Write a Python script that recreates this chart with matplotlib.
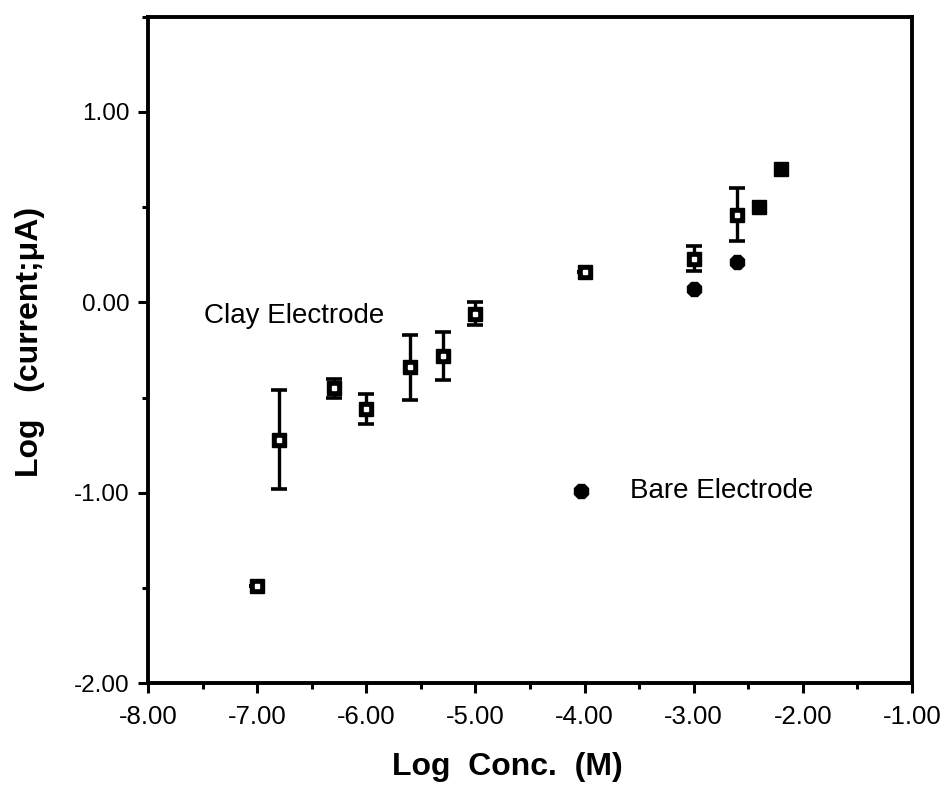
import matplotlib
matplotlib.use('Agg')
import matplotlib.pyplot as plt
from matplotlib.ticker import MultipleLocator

plt.rcParams['font.family'] = ['Liberation Sans', 'DejaVu Sans']

# clay electrode (open squares with error bars)
clay_x = [-7.0, -6.8, -6.3, -6.0, -5.6, -5.3, -5.0, -4.0, -3.0, -2.6]
clay_y = [-1.49, -0.72, -0.45, -0.56, -0.34, -0.28, -0.06, 0.16, 0.23, 0.46]
clay_err = [0.0, 0.26, 0.05, 0.08, 0.17, 0.125, 0.06, 0.0, 0.067, 0.14]

# high concentration points (filled squares)
high_x = [-2.4, -2.2]
high_y = [0.50, 0.70]

# bare electrode
bare_x = [-3.0, -2.6]
bare_y = [0.07, 0.21]

x_ticks = [-8, -7, -6, -5, -4, -3, -2, -1]
y_ticks = [-2, -1, 0, 1]

fig = plt.figure(figsize=(9.52, 7.88), dpi=100)
ax = fig.add_axes([0.1555, 0.1329, 0.8025, 0.8459])

ax.errorbar(clay_x, clay_y, yerr=clay_err, fmt='none', ecolor='black',
            elinewidth=2.4, capsize=5.5, capthick=2.6, zorder=2)
ax.plot(clay_x, clay_y, 's', color='black', markersize=10, zorder=3)
ax.plot(clay_x, clay_y, 's', color='white', markersize=2.6, zorder=4)
ax.plot(high_x, high_y, 's', color='black', markersize=10.5, zorder=3)
ax.plot(bare_x, bare_y, '8', color='black', markersize=10.5, zorder=3)

# legend-like labels
ax.text(-7.49, -0.07, 'Clay Electrode', fontsize=20, va='center', ha='left')
ax.plot([-4.03], [-0.99], '8', color='black', markersize=10.5)
ax.text(-3.58, -0.99, 'Bare Electrode', fontsize=20, va='center', ha='left')

ax.set_xlim(-8, -1)
ax.set_ylim(-2, 1.5)
ax.set_xticks(x_ticks)
ax.set_yticks(y_ticks)
ax.set_xticklabels(['%.2f' % v for v in x_ticks])
ax.set_yticklabels(['%.2f' % v for v in y_ticks])
ax.xaxis.set_minor_locator(MultipleLocator(0.5))
ax.yaxis.set_minor_locator(MultipleLocator(0.5))

for s in ax.spines.values():
    s.set_linewidth(2.8)
ax.tick_params(which='major', direction='out', length=7, width=2.2,
               labelsize=17.5, pad=6)
ax.tick_params(which='minor', direction='out', length=4, width=2.2)
ax.tick_params(axis='x', pad=9, labelsize=18.5)

fig.text(507 / 952, 1 - 767 / 788, 'Log  Conc.  (M)', fontsize=23,
         fontweight='bold', ha='center', va='center')
fig.text(30 / 952, 1 - 342 / 788, 'Log   (current;\u03bcA)', fontsize=23,
         fontweight='bold', ha='center', va='center', rotation=90)

plt.savefig('out.png', dpi=100)
